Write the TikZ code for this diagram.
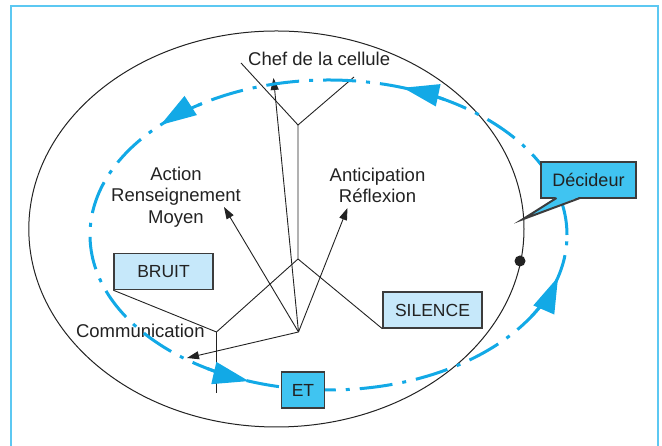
\documentclass[tikz,border=0pt]{standalone}
\usepackage{fontspec}
\setmainfont{Liberation Sans}
\usetikzlibrary{
  arrows.meta,
  calc
}
\definecolor{cfFlow}{HTML}{12A9E6}
\definecolor{cfFrame}{HTML}{5CC8F2}
\definecolor{cfLight}{HTML}{C6E8FA}
\definecolor{cfStrong}{HTML}{40C4F1}
\definecolor{cfInk}{HTML}{222222}
\definecolor{cfEdge}{HTML}{3C3C3C}
\tikzset{
  cfbox/.style={
    draw=cfEdge, line width=1.4pt, minimum height=36pt, inner sep=0pt,
    font=\fontsize{17.5}{20}\selectfont, text=cfInk
  },
  softbox/.style={cfbox, fill=cfLight, minimum width=99pt},
  hardbox/.style={cfbox, fill=cfStrong},
  cftext/.style={font=\fontsize{18.5}{21.3}\selectfont, text=cfInk, inner sep=0pt, align=center},
  wire/.style={cfInk, line width=0.9pt},
  pointer/.style={wire, -{Triangle[length=12pt, width=8pt]}},
  loopline/.style={cfFlow, line width=3pt, dash pattern=on 33pt off 10pt on 4pt off 10pt},
  loophead/.style={cfFlow, line width=3pt, -{Triangle[length=36pt, width=22pt]}}
}

\begin{document}
\begin{tikzpicture}[x=1pt, y=1pt]
  \useasboundingbox (0,0) rectangle (662,446);
  \clip (0,0) rectangle (662,446);
  \draw[cfFrame, line width=1.6pt] (11,-5) -- (11,440) -- (658,440) -- (658,-5);
  % la cellule
  \draw[cfInk, line width=1pt] (276.4,217) ellipse[x radius=247.6, y radius=198];
  \coordinate (chefL) at (241,383);
  \coordinate (chefR) at (354,369);
  \coordinate (forkTop) at (298,321);
  \coordinate (forkMid) at (298,187);
  \coordinate (forkLow) at (216.5,114);
  \coordinate (forkEnd) at (216.5,53);
  \coordinate (hub) at (298.5,114);
  \coordinate (toChef) at (273.5,368);
  \coordinate (toRens) at (224,239);
  \coordinate (toAnti) at (347.5,238);
  \coordinate (toComm) at (187,88);
  \coordinate (decTip) at (522.7,226.7);
  \coordinate (loopC) at (328.5,211);

  \draw[wire] (chefL) -- (forkTop) -- (chefR);
  \draw[wire] (forkTop) -- (forkMid) -- (forkLow) -- (forkEnd);
  \draw[pointer] (hub) -- (toChef);
  \draw[pointer] (hub) -- (toRens);
  \draw[pointer] (hub) -- (toAnti);
  \draw[pointer] (hub) -- (toComm);

  \node[cftext, anchor=base] (chef) at (319.2,380) {Chef de la cellule};
  \node[cftext] (action) at (176,249) {Action\\Renseignement\\Moyen};
  \node[cftext] (anticip) at (377.5,260.5) {Anticipation\\Réflexion};
  \node[cftext, anchor=base] (comm) at (140.3,108.3) {Communication};

  % boucle
  \draw[loopline] (loopC) ellipse[x radius=238.5, y radius=155];
  \foreach \a/\s in {71.8/11, 134.8/12.5, 250.5/11, 344.3/16}
    \draw[loophead] ($(loopC)+({238.5*cos(\a-\s)},{155*sin(\a-\s)})$)
      arc[start angle=\a-\s, end angle=\a, x radius=238.5, y radius=155];

  \node[circle, fill=cfInk, inner sep=0pt, minimum size=11pt] (joint) at (520,185) {};

  \node[softbox] (bruit) at (163.5,174.5) {BRUIT};
  \node[softbox] (silence) at (432.5,136) {SILENCE};
  \node[hardbox, minimum width=42.6pt] (et) at (303,56) {ET};
  \node[hardbox, minimum width=95pt, line width=2pt, font=\fontsize{18}{20}\selectfont] (decideur) at (588.5,266) {Décideur};
  \fill[cfStrong] ($(decideur.south)+(-32,2.2)$) -- (decTip) -- ($(decideur.south)+(-8.5,2.2)$) -- cycle;
  \draw[cfEdge, line width=2pt] ($(decideur.south)+(-32,1)$) -- (decTip) -- ($(decideur.south)+(-8.5,1)$);

  \draw[wire] (bruit.south west) -- (forkLow);
  \draw[wire] (silence.south west) -- (forkMid);
\end{tikzpicture}
\end{document}
